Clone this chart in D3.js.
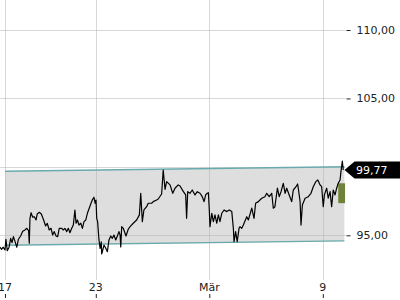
<!DOCTYPE html>
<html>
<head>
<meta charset="utf-8">
<script src="https://cdn.jsdelivr.net/npm/d3@7"></script>
<style>
  html, body { margin: 0; padding: 0; background: #fff; }
  #chart { width: 400px; height: 300px; }
  text { font-family: 'DejaVu Sans', sans-serif; }
</style>
</head>
<body>
<div id="chart"></div>
<script>
// trading days since 17 Feb (weekends skipped), price in EUR
const priceSeries = [
  [-0.22, 94.13], [-0.15, 93.98], [-0.08, 94.13], [0, 93.93], [0.04, 94.71], [0.10, 93.88],
  [0.18, 94.13], [0.25, 94.78], [0.31, 94.46], [0.37, 94.90], [0.44, 94.56], [0.52, 94.13],
  [0.59, 94.71], [0.69, 94.95], [0.78, 95.29], [0.88, 95.39], [0.96, 95.51], [1.04, 95.34],
  [1.07, 94.42], [1.10, 96.24], [1.15, 96.65], [1.22, 96.32], [1.29, 96.36], [1.37, 96.12],
  [1.42, 96.56], [1.51, 96.68], [1.60, 96.56], [1.69, 96.17], [1.79, 95.68], [1.86, 95.88],
  [1.95, 95.39], [2.03, 95.51], [2.10, 95.02], [2.17, 95.27], [2.25, 94.95], [2.32, 94.90],
  [2.39, 95.51], [2.50, 95.51], [2.57, 95.39], [2.64, 95.51], [2.72, 95.27], [2.79, 95.51],
  [2.86, 95.19], [2.94, 95.51], [3.01, 95.75], [3.08, 96.85], [3.13, 95.88], [3.19, 96.12],
  [3.26, 95.75], [3.34, 95.88], [3.41, 95.51], [3.48, 96.00], [3.56, 96.12], [3.63, 96.61],
  [3.71, 96.98], [3.79, 97.34], [3.86, 97.63], [3.92, 97.78], [3.97, 97.34], [4.01, 97.58],
  [4.04, 96.24], [4.08, 96.00], [4.14, 94.66], [4.19, 94.05], [4.24, 94.53], [4.26, 93.64],
  [4.29, 93.80], [4.36, 94.29], [4.44, 94.05], [4.51, 93.80], [4.58, 94.66], [4.66, 94.95],
  [4.73, 94.78], [4.80, 95.02], [4.88, 94.66], [4.95, 94.95], [5.02, 95.27], [5.07, 95.02],
  [5.10, 94.15], [5.14, 95.63], [5.21, 95.51], [5.33, 94.95], [5.43, 95.44], [5.51, 95.63],
  [5.65, 95.88], [5.80, 96.12], [5.92, 96.49], [5.98, 98.07], [6.05, 96.00], [6.12, 96.85],
  [6.24, 97.09], [6.31, 97.34], [6.46, 97.34], [6.53, 97.46], [6.68, 97.58], [6.75, 97.65],
  [6.90, 98.02], [6.97, 99.77], [7.05, 98.36], [7.12, 98.92], [7.27, 98.68], [7.39, 98.07],
  [7.49, 98.44], [7.63, 98.68], [7.71, 98.60], [7.86, 98.19], [7.96, 97.95], [8.00, 96.24],
  [8.05, 98.19], [8.15, 98.07], [8.25, 98.31], [8.37, 97.95], [8.47, 98.19], [8.59, 98.07],
  [8.69, 97.82], [8.77, 97.46], [8.84, 97.95], [8.91, 98.07], [8.96, 98.11], [9.00, 96.85],
  [9.03, 95.63], [9.11, 96.61], [9.18, 96.00], [9.25, 96.49], [9.33, 95.88], [9.40, 96.49],
  [9.47, 96.00], [9.55, 96.61], [9.65, 96.85], [9.77, 96.73], [9.88, 96.85], [9.99, 96.73],
  [10.06, 95.51], [10.09, 94.53], [10.16, 95.27], [10.23, 94.53], [10.31, 95.51], [10.35, 95.63],
  [10.43, 95.51], [10.50, 95.75], [10.65, 96.36], [10.72, 96.12], [10.87, 96.98], [10.97, 96.24],
  [11.04, 97.34], [11.16, 97.46], [11.31, 97.71], [11.45, 97.82], [11.53, 98.07], [11.64, 97.82],
  [11.75, 98.07], [11.82, 96.98], [11.89, 97.09], [12.00, 98.44], [12.08, 97.82], [12.16, 98.19],
  [12.26, 98.80], [12.34, 98.07], [12.41, 98.44], [12.52, 97.95], [12.63, 97.46], [12.70, 98.31],
  [12.82, 98.55], [12.89, 98.75], [12.92, 98.44], [13.00, 97.46], [13.04, 95.75], [13.10, 97.22],
  [13.22, 97.71], [13.36, 97.82], [13.48, 98.07], [13.58, 98.55], [13.69, 98.92], [13.78, 99.04],
  [13.88, 98.68], [13.95, 98.55], [14.02, 97.09], [14.07, 97.95], [14.17, 98.44], [14.24, 97.71],
  [14.32, 98.19], [14.39, 97.09], [14.46, 98.31], [14.54, 97.95], [14.61, 98.44], [14.68, 98.80],
  [14.76, 99.04], [14.80, 99.65], [14.86, 100.43], [14.90, 99.77],
];

// trend channel (start / end)
const channelDays = [0, 14.95];
const channelTop = [99.68, 100.01];
const channelBottom = [94.27, 94.59];

// small green range marker at the last day
const markerDays = [14.68, 14.98];
const markerRange = [98.8, 97.35];

const lastPrice = 99.77;

const gridValues = [95, 100, 105, 110];
// 100,00 sits under the last-price tag, so it is not labelled
const yTickValues = [95, 105, 110];
const xTickDays = [0, 4, 9, 14];
const xTickLabels = ['17', '23', 'Mär', '9'];

const de = d3.formatLocale({ decimal: ',', thousands: '.', grouping: [3], currency: ['', ' €'] });
const fmt = de.format('.2f');

const width = 400;
const height = 300;
const plotRight = 345.5;
const plotBottom = 280;

const svg = d3.select('#chart')
  .append('svg')
  .attr('width', width)
  .attr('height', height);

const x = d3.scaleLinear()
  .domain([-0.22, 15])
  .range([0, plotRight]);

const y = d3.scaleLinear()
  .domain([95, 110])
  .range([235.3, 30]);

// channel band
const band = channelDays.map((d, i) => ({ t: d, top: channelTop[i], bottom: channelBottom[i] }));
svg.append('path')
  .datum(band)
  .attr('fill', '#dedede')
  .attr('d', d3.area().x((d) => x(d.t)).y0((d) => y(d.bottom)).y1((d) => y(d.top)));

// grid lines
svg.append('g')
  .selectAll('line')
  .data(gridValues)
  .enter()
  .append('line')
  .attr('x1', 0)
  .attr('x2', plotRight)
  .attr('y1', (d) => Math.round(y(d)) + 0.5)
  .attr('y2', (d) => Math.round(y(d)) + 0.5)
  .attr('stroke', 'rgb(181,181,181)')
  .attr('stroke-opacity', 0.52);

svg.append('g')
  .selectAll('line')
  .data(xTickDays)
  .enter()
  .append('line')
  .attr('x1', (d) => Math.round(x(d)) + 0.5)
  .attr('x2', (d) => Math.round(x(d)) + 0.5)
  .attr('y1', 0)
  .attr('y2', plotBottom)
  .attr('stroke', 'rgb(181,181,181)')
  .attr('stroke-opacity', 0.52);

// channel edges
[channelTop, channelBottom].forEach((edge) => {
  svg.append('path')
    .datum(channelDays.map((d, i) => [d, edge[i]]))
    .attr('fill', 'none')
    .attr('stroke', '#6aaaac')
    .attr('stroke-width', 1.4)
    .attr('d', d3.line().x((d) => x(d[0])).y((d) => y(d[1])));
});

// green marker
svg.append('rect')
  .attr('x', x(markerDays[0]))
  .attr('y', y(markerRange[0]))
  .attr('width', x(markerDays[1]) - x(markerDays[0]))
  .attr('height', y(markerRange[1]) - y(markerRange[0]))
  .attr('fill', '#6f823a');

// price line
svg.append('path')
  .datum(priceSeries)
  .attr('fill', 'none')
  .attr('stroke', '#000')
  .attr('stroke-width', 1.2)
  .attr('stroke-linejoin', 'round')
  .attr('d', d3.line().x((d) => x(d[0])).y((d) => y(d[1])));

// right axis
const yAxis = d3.axisRight(y)
  .tickValues(yTickValues)
  .tickSize(4)
  .tickPadding(6)
  .tickFormat(fmt);
const yAxisG = svg.append('g')
  .attr('transform', `translate(${plotRight + 1},0)`)
  .call(yAxis);
yAxisG.select('.domain').remove();
yAxisG.selectAll('line').attr('stroke', '#222');
yAxisG.selectAll('text')
  .attr('fill', '#222')
  .style('font-size', '11px');

// bottom axis (ticks under the labels)
const xAxis = d3.axisBottom(x)
  .tickValues(xTickDays)
  .tickSize(4)
  .tickFormat('');
const xAxisG = svg.append('g')
  .attr('transform', `translate(0,${height - 6})`)
  .call(xAxis);
xAxisG.select('.domain').remove();
xAxisG.selectAll('line').attr('stroke', '#222');

svg.append('g')
  .selectAll('text')
  .data(xTickDays)
  .enter()
  .append('text')
  .attr('x', (d) => x(d))
  .attr('y', 291)
  .attr('text-anchor', 'middle')
  .attr('fill', '#222')
  .style('font-size', '11px')
  .text((d, i) => xTickLabels[i]);

// last price label
const ly = y(lastPrice);
svg.append('path')
  .attr('d', `M${plotRight - 1},${ly} L${plotRight + 9},${ly - 8.5} L${width},${ly - 8.5} L${width},${ly + 8.5} L${plotRight + 9},${ly + 8.5} Z`)
  .attr('fill', '#000');
svg.append('text')
  .attr('x', 356)
  .attr('y', ly + 4)
  .attr('fill', '#fff')
  .style('font-size', '11px')
  .text(fmt(lastPrice));
</script>
</body>
</html>
